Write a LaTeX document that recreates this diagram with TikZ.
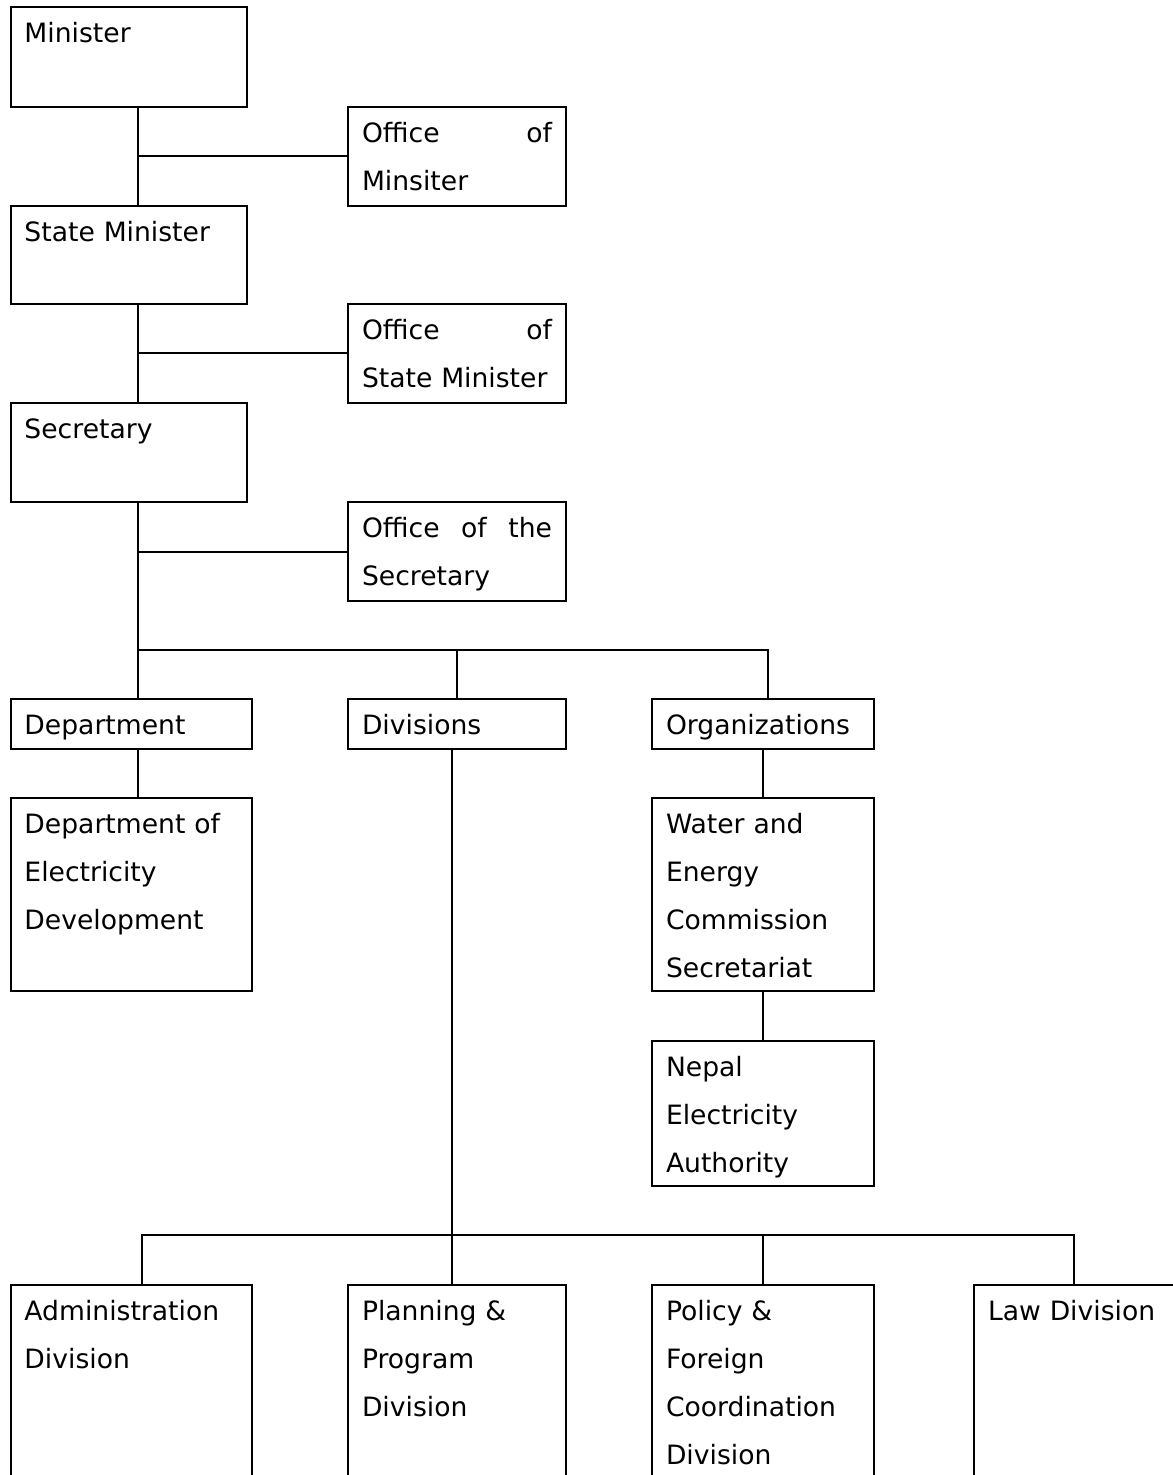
\documentclass[tikz,border=0pt]{standalone}
\usepackage{fontspec}
\setmainfont{DejaVu Sans}

\begin{document}
\begin{tikzpicture}[x=0.5pt, y=-0.5pt,
    box/.style={draw, line width=1pt, outer sep=0pt, anchor=north west, align=left,
        inner xsep=7pt, inner ysep=4pt, text height=13.75pt,
        font=\fontsize{13.3}{24}\selectfont},
    link/.style={line width=1pt}]
        \useasboundingbox (0,0) rectangle (1172,1475);

        \node[box, text width=104.25pt, text depth=28pt] (minister) at (10.5,7.5) {Minister};
        \node[box, text width=95pt, text depth=27.75pt] (offmin) at (348,107) {Office \hfill of\\Minsiter};
        \node[box, text width=104.25pt, text depth=27.25pt] (state) at (10.5,206) {State Minister};
        \node[box, text width=95pt, text depth=27.75pt] (offstate) at (348,304) {Office \hfill of\\State Minister};
        \node[box, text width=104.25pt, text depth=27.75pt] (secretary) at (10.5,403) {Secretary};
        \node[box, text width=95pt, text depth=27.75pt] (offsec) at (348,502) {Office \hfill of \hfill the\\Secretary};

        \node[box, text width=106.75pt, text depth=3.25pt] (dept) at (10.5,699) {Department};
        \node[box, text width=95pt, text depth=3.25pt] (divisions) at (348,699) {Divisions};
        \node[box, text width=97pt, text depth=3.25pt] (orgs) at (652,699) {Organizations};

        \node[box, text width=106.75pt, text depth=74.75pt] (doed) at (10.5,798) {Department of\\Electricity\\Development};
        \node[box, text width=97pt, text depth=74.75pt] (wecs) at (652,798) {Water and\\Energy\\Commission\\Secretariat};
        \node[box, text width=97pt, text depth=50.75pt] (nea) at (652,1041) {Nepal\\Electricity\\Authority};

        \node[box, text width=106.75pt, text depth=93.25pt] (admin) at (10.5,1285) {Administration\\Division};
        \node[box, text width=95pt, text depth=93.25pt] (planning) at (348,1285) {Planning \&\\Program\\Division};
        \node[box, text width=97pt, text depth=93.25pt] (policy) at (652,1285) {Policy \&\\Foreign\\Coordination\\Division};
        \node[box, text width=97pt, text depth=93.25pt] (law) at (974,1285) {Law Division};

        \coordinate (spine) at (138,0);
        \coordinate (fork) at (138,650);
        \coordinate (bus) at (452,1235);
        \coordinate (admindrop) at (142,0);
        \coordinate (lawdrop) at (1074,0);

        \draw[link] (spine |- minister.south) -- (spine |- state.north);
        \draw[link] (spine |- offmin.west) -- (offmin.west);
        \draw[link] (spine |- state.south) -- (spine |- secretary.north);
        \draw[link] (spine |- offstate.west) -- (offstate.west);
        \draw[link] (spine |- secretary.south) -- (spine |- dept.north);
        \draw[link] (spine |- offsec.west) -- (offsec.west);
        \draw[link] (fork) -| ([xshift=2.5pt]orgs.north);
        \draw[link] (fork -| divisions.north) -- (divisions.north);
        \draw[link] (spine |- dept.south) -- (spine |- doed.north);
        \draw[link] (orgs.south) -- (wecs.north);
        \draw[link] (wecs.south) -- (nea.north);
        \draw[link] ([xshift=-2.5pt]divisions.south) -- (bus);
        \draw[link] (admindrop |- admin.north) |- (lawdrop |- bus) -- (lawdrop |- law.north);
        \draw[link] (bus) -- (bus |- planning.north);
        \draw[link] (policy.north |- bus) -- (policy.north);
    \end{tikzpicture}
\end{document}
